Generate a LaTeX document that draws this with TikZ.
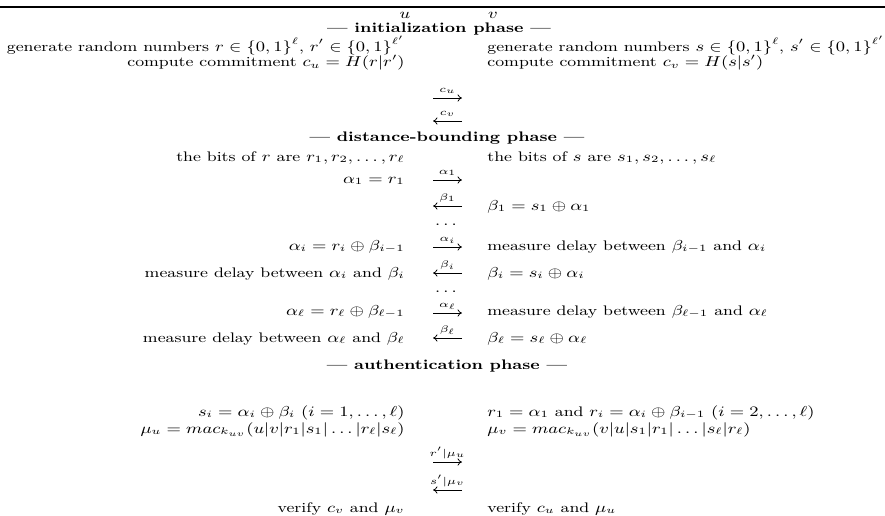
\documentclass[tikz,border=0pt]{standalone}
\usepackage{amsmath}
\usetikzlibrary{arrows.meta}
\newcommand{\vsq}[1]{\scalebox{1}[0.80]{#1}}
\begin{document}
\begin{tikzpicture}[x=0.5pt,y=-0.5pt,
  txt/.style={inner sep=0pt, font=\fontsize{8.65}{10.5}\selectfont},
  lft/.style={txt, anchor=base east},
  rgt/.style={txt, anchor=base west},
  ctr/.style={txt, anchor=base},
  lbl/.style={inner sep=0pt, anchor=base, font=\fontsize{6.1}{7.5}\selectfont},
  msg/.style={line width=0.4pt, -{To[length=2.2pt,width=3.6pt]}}]
\useasboundingbox (0,0) rectangle (885,515);
\draw[line width=1.2pt] (0,7) -- (885,7);
% parties
\node[ctr] (pu) at (405,18) {\vsq{$u$}};
\node[ctr] (pv) at (493,18) {\vsq{$v$}};
% initialization
\node[ctr] (h1) at (439,32.5) {\vsq{\textbf{--- initialization phase ---}}};
\node[lft] (l1) at (405,51) {\vsq{generate random numbers $r\in\{0,1\}^\ell$, $r'\in\{0,1\}^{\ell'}$}};
\node[rgt] (r1) at (487,51) {\vsq{generate random numbers $s\in\{0,1\}^\ell$, $s'\in\{0,1\}^{\ell'}$}};
\node[lft] (l2) at (405,66.5) {\vsq{compute commitment $c_u=H(r|r')$}};
\node[rgt] (r2) at (487,66.5) {\vsq{compute commitment $c_v=H(s|s')$}};
\coordinate (a1s) at (433,98); \coordinate (a1e) at (462,98);
\draw[msg] (a1s) -- (a1e);
\node[lbl] (a1l) at (447.5,92) {\vsq{$c_u$}};
\coordinate (a2s) at (462,121); \coordinate (a2e) at (433,121);
\draw[msg] (a2s) -- (a2e);
\node[lbl] (a2l) at (447.5,115) {\vsq{$c_v$}};
% distance bounding
\node[ctr] (h2) at (447,141) {\vsq{\textbf{--- distance-bounding phase ---}}};
\node[lft] (l3) at (405,161) {\vsq{the bits of $r$ are $r_1,r_2,\dots,r_\ell$}};
\node[rgt] (r3) at (487,161) {\vsq{the bits of $s$ are $s_1,s_2,\dots,s_\ell$}};
\node[lft] (l4) at (405,183) {\vsq{$\alpha_1=r_1$}};
\coordinate (a3s) at (433,180); \coordinate (a3e) at (462,180);
\draw[msg] (a3s) -- (a3e);
\node[lbl] (a3l) at (447.5,174) {\vsq{$\alpha_1$}};
\coordinate (a4s) at (462,206); \coordinate (a4e) at (433,206);
\draw[msg] (a4s) -- (a4e);
\node[lbl] (a4l) at (447.5,200) {\vsq{$\beta_1$}};
\node[rgt] (r4) at (487,210) {\vsq{$\beta_1=s_1\oplus\alpha_1$}};
\node[ctr] (d1) at (447.5,225) {\vsq{$\dots$}};
\node[lft] (l5) at (405,250) {\vsq{$\alpha_i=r_i\oplus\beta_{i-1}$}};
\coordinate (a5s) at (433,247); \coordinate (a5e) at (462,247);
\draw[msg] (a5s) -- (a5e);
\node[lbl] (a5l) at (447.5,241) {\vsq{$\alpha_i$}};
\node[rgt] (r5) at (487,250) {\vsq{measure delay between $\beta_{i-1}$ and $\alpha_i$}};
\node[lft] (l6) at (405,277) {\vsq{measure delay between $\alpha_i$ and $\beta_i$}};
\coordinate (a6s) at (462,273); \coordinate (a6e) at (433,273);
\draw[msg] (a6s) -- (a6e);
\node[lbl] (a6l) at (447.5,267) {\vsq{$\beta_i$}};
\node[rgt] (r6) at (487,277) {\vsq{$\beta_i=s_i\oplus\alpha_i$}};
\node[ctr] (d2) at (447.5,292) {\vsq{$\dots$}};
\node[lft] (l7) at (405,315) {\vsq{$\alpha_\ell=r_\ell\oplus\beta_{\ell-1}$}};
\coordinate (a7s) at (433,313); \coordinate (a7e) at (462,313);
\draw[msg] (a7s) -- (a7e);
\node[lbl] (a7l) at (447.5,307) {\vsq{$\alpha_\ell$}};
\node[rgt] (r7) at (487,315) {\vsq{measure delay between $\beta_{\ell-1}$ and $\alpha_\ell$}};
\node[lft] (l8) at (405,342) {\vsq{measure delay between $\alpha_\ell$ and $\beta_\ell$}};
\coordinate (a8s) at (462,338); \coordinate (a8e) at (433,338);
\draw[msg] (a8s) -- (a8e);
\node[lbl] (a8l) at (447.5,332) {\vsq{$\beta_\ell$}};
\node[rgt] (r8) at (487,342) {\vsq{$\beta_\ell=s_\ell\oplus\alpha_\ell$}};
% authentication
\node[ctr] (h3) at (447,369) {\vsq{\textbf{--- authentication phase ---}}};
\node[lft] (l9) at (405,416) {\vsq{$s_i=\alpha_i\oplus\beta_i$ $(i=1,\dots,\ell)$}};
\node[rgt] (r9) at (487,416) {\vsq{$r_1=\alpha_1$ and $r_i=\alpha_i\oplus\beta_{i-1}$ $(i=2,\dots,\ell)$}};
\node[lft] (l10) at (405,433) {\vsq{$\mu_u=mac_{k_{uv}}(u|v|r_1|s_1|\dots|r_\ell|s_\ell)$}};
\node[rgt] (r10) at (487,433) {\vsq{$\mu_v=mac_{k_{uv}}(v|u|s_1|r_1|\dots|s_\ell|r_\ell)$}};
\coordinate (a9s) at (433,462); \coordinate (a9e) at (462,462);
\draw[msg] (a9s) -- (a9e);
\node[lbl] (a9l) at (447.5,456) {\vsq{$r'|\mu_u$}};
\coordinate (a10s) at (462,490); \coordinate (a10e) at (433,490);
\draw[msg] (a10s) -- (a10e);
\node[lbl] (a10l) at (447.5,484) {\vsq{$s'|\mu_v$}};
\node[lft] (l11) at (405,512) {\vsq{verify $c_v$ and $\mu_v$}};
\node[rgt] (r11) at (487,512) {\vsq{verify $c_u$ and $\mu_u$}};
\end{tikzpicture}
\end{document}
